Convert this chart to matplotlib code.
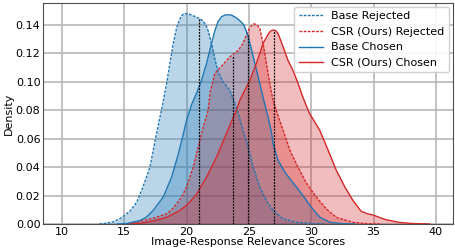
import numpy as np
import matplotlib
matplotlib.use("Agg")
import matplotlib.pyplot as plt

# density curves (score, density)
base_rej_x = [13.0, 13.5, 14.1, 14.6, 15.06, 15.5, 16.0, 16.5, 17.06, 17.46, 17.86, 18.12, 18.4, 18.66,
              18.93, 19.2, 19.4, 19.6, 19.8, 20.0, 20.25, 20.53, 21.0, 21.3, 21.55, 21.73, 22.0, 22.27,
              22.53, 22.93, 23.2, 23.47, 23.87, 24.2, 24.53, 24.94, 25.34, 25.87, 26.4, 26.94, 27.74,
              28.8, 30.0, 31.0]
base_rej_y = [0.0, 0.0005, 0.0015, 0.0035, 0.0062, 0.0095, 0.0153, 0.026, 0.040, 0.058, 0.075, 0.086,
              0.099, 0.113, 0.127, 0.138, 0.143, 0.1465, 0.148, 0.148, 0.1475, 0.1465, 0.1447, 0.143,
              0.140, 0.136, 0.127, 0.116, 0.107, 0.100, 0.097, 0.094, 0.085, 0.076, 0.066, 0.054,
              0.040, 0.026, 0.0165, 0.0095, 0.0036, 0.0012, 0.0003, 0.0]

base_cho_x = [14.5, 15.2, 16.26, 16.8, 17.32, 17.7, 18.13, 18.8, 19.33, 19.73, 20.0, 20.4, 20.8, 21.2,
              21.6, 22.0, 22.27, 22.53, 22.8, 23.07, 23.35, 23.6, 24.0, 24.4, 24.6, 24.94, 25.34, 25.74,
              26.14, 26.54, 26.8, 26.94, 27.34, 27.88, 28.54, 29.34, 30.0, 30.7, 31.5, 32.5, 33.5]
base_cho_y = [0.0, 0.0003, 0.0024, 0.005, 0.0095, 0.014, 0.019, 0.033, 0.049, 0.063, 0.073, 0.084,
              0.092, 0.101, 0.113, 0.127, 0.136, 0.1425, 0.1458, 0.147, 0.1472, 0.147, 0.145, 0.142,
              0.140, 0.132, 0.118, 0.1035, 0.089, 0.075, 0.065, 0.0565, 0.0447, 0.0365, 0.029, 0.020,
              0.0118, 0.0047, 0.0012, 0.0002, 0.0]

csr_rej_x = [15.0, 16.0, 16.5, 17.5, 18.4, 18.8, 19.2, 19.6, 20.0, 20.53, 20.93, 21.33, 21.73, 21.9,
             22.27, 22.8, 23.47, 24.13, 24.45, 24.67, 24.94, 25.2, 25.4, 25.55, 25.7, 25.87, 26.14,
             26.4, 26.67, 26.94, 27.34, 27.74, 28.28, 28.94, 29.6, 30.4, 31.2, 32.0, 33.35, 34.5, 35.5]
csr_rej_y = [0.0, 0.0012, 0.0024, 0.0045, 0.0071, 0.010, 0.0142, 0.019, 0.026, 0.040, 0.054, 0.068,
             0.080, 0.093, 0.106, 0.111, 0.1176, 0.122, 0.126, 0.130, 0.136, 0.1395, 0.1408, 0.1405,
             0.1395, 0.1376, 0.127, 0.113, 0.099, 0.087, 0.076, 0.066, 0.052, 0.040, 0.029, 0.019,
             0.0107, 0.0047, 0.0012, 0.0002, 0.0]

csr_cho_x = [15.5, 16.3, 17.5, 18.4, 19.46, 20.13, 20.8, 21.6, 22.4, 23.07, 23.6, 24.0, 24.27, 25.07,
             25.6, 26.14, 26.54, 26.75, 26.94, 27.15, 27.34, 27.74, 28.14, 28.54, 28.94, 29.34, 29.85,
             30.68, 31.35, 32.0, 32.7, 33.35, 34.0, 34.5, 35.0, 35.5, 36.0, 37.0, 38.0, 39.5]
csr_cho_y = [0.0, 0.0005, 0.0025, 0.0047, 0.0095, 0.0142, 0.021, 0.033, 0.047, 0.061, 0.072, 0.080,
             0.087, 0.101, 0.113, 0.127, 0.1335, 0.1358, 0.1365, 0.136, 0.134, 0.1247, 0.115, 0.108,
             0.099, 0.089, 0.078, 0.066, 0.052, 0.038, 0.026, 0.0165, 0.009, 0.0072, 0.0062, 0.0045,
             0.003, 0.0012, 0.0004, 0.0]

# mean score of each distribution (dotted markers)
means = [21.0, 23.7, 24.9, 27.03]

blue = "#1f77b4"
red = "#d62728"

fig, ax = plt.subplots(figsize=(4.55, 2.5), dpi=100)
fig.subplots_adjust(left=0.095, right=0.995, bottom=0.104, top=0.988)

curves = [
    (base_rej_x, base_rej_y, blue, (0, (2, 1)), "Base Rejected"),
    (csr_rej_x, csr_rej_y, red, (0, (2, 1)), "CSR (Ours) Rejected"),
    (base_cho_x, base_cho_y, blue, "-", "Base Chosen"),
    (csr_cho_x, csr_cho_y, red, "-", "CSR (Ours) Chosen"),
]

for x, y, c, ls, lab in curves:
    ax.fill_between(x, y, color=c, alpha=0.3, linewidth=0)
    ax.plot(x, y, color=c, linestyle=ls, linewidth=1.0, label=lab)

# vertical dotted lines up to the curve at the mean
for m, (x, y, c, ls, lab) in zip(means, curves):
    h = np.interp(m, x, y)
    ax.plot([m, m], [0, h], color="black", linestyle=(0, (1.5, 1)), linewidth=0.9)

ax.set_xlim(8.5, 41.35)
ax.set_ylim(0, 0.1555)
ax.set_xticks([10, 15, 20, 25, 30, 35, 40])
ax.set_yticks(np.arange(0, 0.141, 0.02))
ax.set_yticklabels(["%.2f" % v for v in np.arange(0, 0.141, 0.02)])
ax.grid(True, color="#b8b8b8", linewidth=1.2)
ax.set_axisbelow(True)
ax.tick_params(labelsize=8, length=0, pad=2)
for s in ax.spines.values():
    s.set_color("0.3")
ax.set_xlabel("Image-Response Relevance Scores", fontsize=8, labelpad=0)
ax.set_ylabel("Density", fontsize=8, labelpad=1)
ax.legend(loc="upper right", fontsize=8, handlelength=2.2, borderpad=0.4, labelspacing=0.5,
          handletextpad=0.7, borderaxespad=0.35, framealpha=0.9)

fig.savefig("out.png", dpi=100)
